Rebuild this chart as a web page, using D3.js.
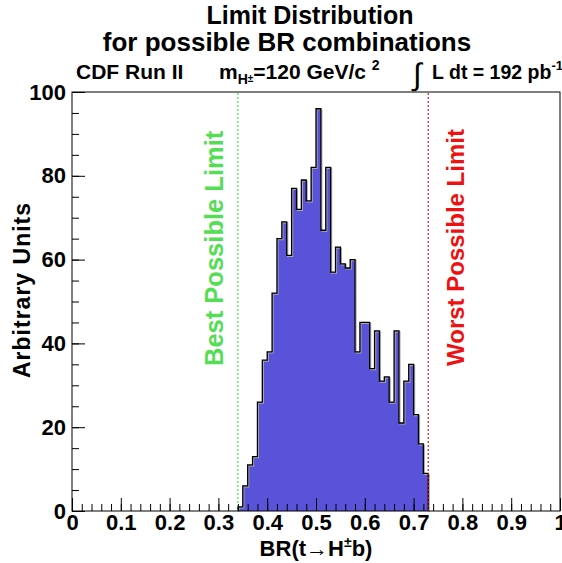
<!DOCTYPE html>
<html>
<head>
<meta charset="utf-8">
<script src="https://cdnjs.cloudflare.com/ajax/libs/d3/7.8.5/d3.min.js"></script>
<style>
  body { margin: 0; background: #fff; }
  text { font-family: "Liberation Sans", Arial, Helvetica, sans-serif; font-weight: bold; }
</style>
</head>
<body>
<div id="chart"></div>
<script>
// histogram bins (lower edges) and contents
const binLow = [0.34, 0.35, 0.36, 0.37, 0.38, 0.39, 0.40, 0.41, 0.42, 0.43,
                0.44, 0.45, 0.46, 0.47, 0.48, 0.49, 0.50, 0.51, 0.52, 0.53,
                0.54, 0.55, 0.56, 0.57, 0.58, 0.59, 0.60, 0.61, 0.62, 0.63,
                0.64, 0.65, 0.66, 0.67, 0.68, 0.69, 0.70, 0.71, 0.72];
const counts = [1, 6, 11, 13, 26, 36, 38, 52, 65, 69,
                61, 77, 72, 79, 74, 82, 96, 67, 82, 57,
                63, 59, 58, 60, 38, 45, 45, 34, 43, 31,
                32, 26, 43, 21, 31, 35, 23, 16, 9];
const binWidth = 0.01;
const xTicks = [0, 0.1, 0.2, 0.3, 0.4, 0.5, 0.6, 0.7, 0.8, 0.9, 1];
const xTickLabels = ["0", "0.1", "0.2", "0.3", "0.4", "0.5", "0.6", "0.7", "0.8", "0.9", "1"];
const yTicks = [0, 20, 40, 60, 80, 100];
const bestLimit = 0.34;
const worstLimit = 0.73;

const W = 562, H = 563;
const margin = { left: 72, right: 2, top: 92, bottom: 52 };

const svg = d3.select("#chart").append("svg")
    .attr("width", W)
    .attr("height", H);

const x = d3.scaleLinear().domain([0, 1]).range([margin.left, W - margin.right]);
const y = d3.scaleLinear().domain([0, 100]).range([H - margin.bottom, margin.top]);

// histogram
let pts = [[x(binLow[0]), y(0)]];
binLow.forEach(function(b, i) {
    pts.push([x(b), y(counts[i])]);
    pts.push([x(b + binWidth), y(counts[i])]);
});
pts.push([x(binLow[binLow.length - 1] + binWidth), y(0)]);

svg.append("path")
    .attr("d", d3.line()(pts) + "Z")
    .attr("fill", "#5953d9")
    .attr("stroke", "none");

svg.append("path")
    .attr("d", d3.line()(pts))
    .attr("fill", "none")
    .attr("stroke", "#aaa")
    .attr("stroke-width", 1.2)
    .attr("transform", "translate(1,1)");

svg.append("path")
    .attr("d", d3.line()(pts))
    .attr("fill", "none")
    .attr("stroke", "#000")
    .attr("stroke-width", 1.3);

// limit lines
svg.append("line")
    .attr("x1", x(bestLimit)).attr("x2", x(bestLimit))
    .attr("y1", y(0)).attr("y2", y(100))
    .attr("stroke", "#44dd44")
    .attr("stroke-width", 1.2)
    .attr("stroke-dasharray", "2,2");

svg.append("line")
    .attr("x1", x(worstLimit)).attr("x2", x(worstLimit))
    .attr("y1", y(0)).attr("y2", y(100))
    .attr("stroke", "#ee1111")
    .attr("stroke-width", 1.2)
    .attr("stroke-dasharray", "2,2");

svg.append("text")
    .attr("transform", "translate(" + (x(bestLimit) - 15) + ",366) rotate(-90)")
    .attr("font-size", "25.5px")
    .attr("fill", "#55dd55")
    .text("Best Possible Limit");

svg.append("text")
    .attr("transform", "translate(" + (x(worstLimit) + 36) + ",366) rotate(-90)")
    .attr("font-size", "24px")
    .attr("fill", "#ee1111")
    .text("Worst Possible Limit");

// axes
const xMinor = d3.range(0, 1.0001, 0.02);
const yMinor = d3.range(0, 100.01, 5);

svg.append("g")
    .attr("transform", "translate(0," + y(0) + ")")
    .call(d3.axisBottom(x).tickValues(xMinor).tickSize(-7).tickFormat(""))
    .call(g => g.select(".domain").remove());

svg.append("g")
    .attr("transform", "translate(0," + y(0) + ")")
    .call(d3.axisBottom(x).tickValues(xTicks).tickSize(-13).tickPadding(3)
        .tickFormat((d, i) => xTickLabels[i]))
    .call(g => g.select(".domain").remove())
    .call(g => g.selectAll("text").attr("font-size", "22px").attr("fill", "#000")
        .style("font-family", "'Liberation Sans', Arial, sans-serif").style("font-weight", "bold"));

svg.append("g")
    .attr("transform", "translate(" + x(0) + ",0)")
    .call(d3.axisLeft(y).tickValues(yMinor).tickSize(-7).tickFormat(""))
    .call(g => g.select(".domain").remove());

svg.append("g")
    .attr("transform", "translate(" + x(0) + ",0)")
    .call(d3.axisLeft(y).tickValues(yTicks).tickSize(-13).tickPadding(6))
    .call(g => g.select(".domain").remove())
    .call(g => g.selectAll("text").attr("font-size", "22px").attr("fill", "#000")
        .style("font-family", "'Liberation Sans', Arial, sans-serif").style("font-weight", "bold"));

// frame
svg.append("rect")
    .attr("x", x(0)).attr("y", y(100))
    .attr("width", x(1) - x(0)).attr("height", y(0) - y(100))
    .attr("fill", "none")
    .attr("stroke", "#000")
    .attr("stroke-width", 1);

// axis titles
const xt = svg.append("text")
    .attr("x", 316).attr("y", 556)
    .attr("text-anchor", "middle")
    .attr("font-size", "22px");
xt.append("tspan").text("BR(t\u2192H");
xt.append("tspan").attr("font-size", "14px").attr("dy", -9).text("\u00b1");
xt.append("tspan").attr("dy", 9).text("b)");

svg.append("text")
    .attr("transform", "translate(30,378) rotate(-90)")
    .attr("font-size", "23px")
    .attr("letter-spacing", "1px")
    .text("Arbitrary Units");

// titles
svg.append("text")
    .attr("x", 310).attr("y", 24)
    .attr("text-anchor", "middle")
    .attr("font-size", "25px")
    .text("Limit Distribution");

svg.append("text")
    .attr("x", 287).attr("y", 51)
    .attr("text-anchor", "middle")
    .attr("font-size", "26px")
    .text("for possible BR combinations");

svg.append("text")
    .attr("x", 76).attr("y", 79)
    .attr("font-size", "21px")
    .text("CDF Run II");

const m = svg.append("text")
    .attr("x", 219).attr("y", 79)
    .attr("font-size", "21px");
m.append("tspan").text("m");
m.append("tspan").attr("font-size", "14px").attr("dy", 5).text("H");
m.append("tspan").attr("font-size", "10px").attr("dy", -2).text("\u00b1");
m.append("tspan").attr("dy", -3).text("=120 GeV/c ");
m.append("tspan").attr("font-size", "14px").attr("dy", -9).text("2");

svg.append("text")
    .attr("x", 413).attr("y", 85)
    .attr("font-size", "31px")
    .style("font-weight", "normal")
    .text("\u222b");

const lum = svg.append("text")
    .attr("x", 432).attr("y", 79)
    .attr("font-size", "19.5px");
lum.append("tspan").text("L dt = 192 pb");
lum.append("tspan").attr("font-size", "13px").attr("dy", -9).text("-1");
</script>
</body>
</html>
